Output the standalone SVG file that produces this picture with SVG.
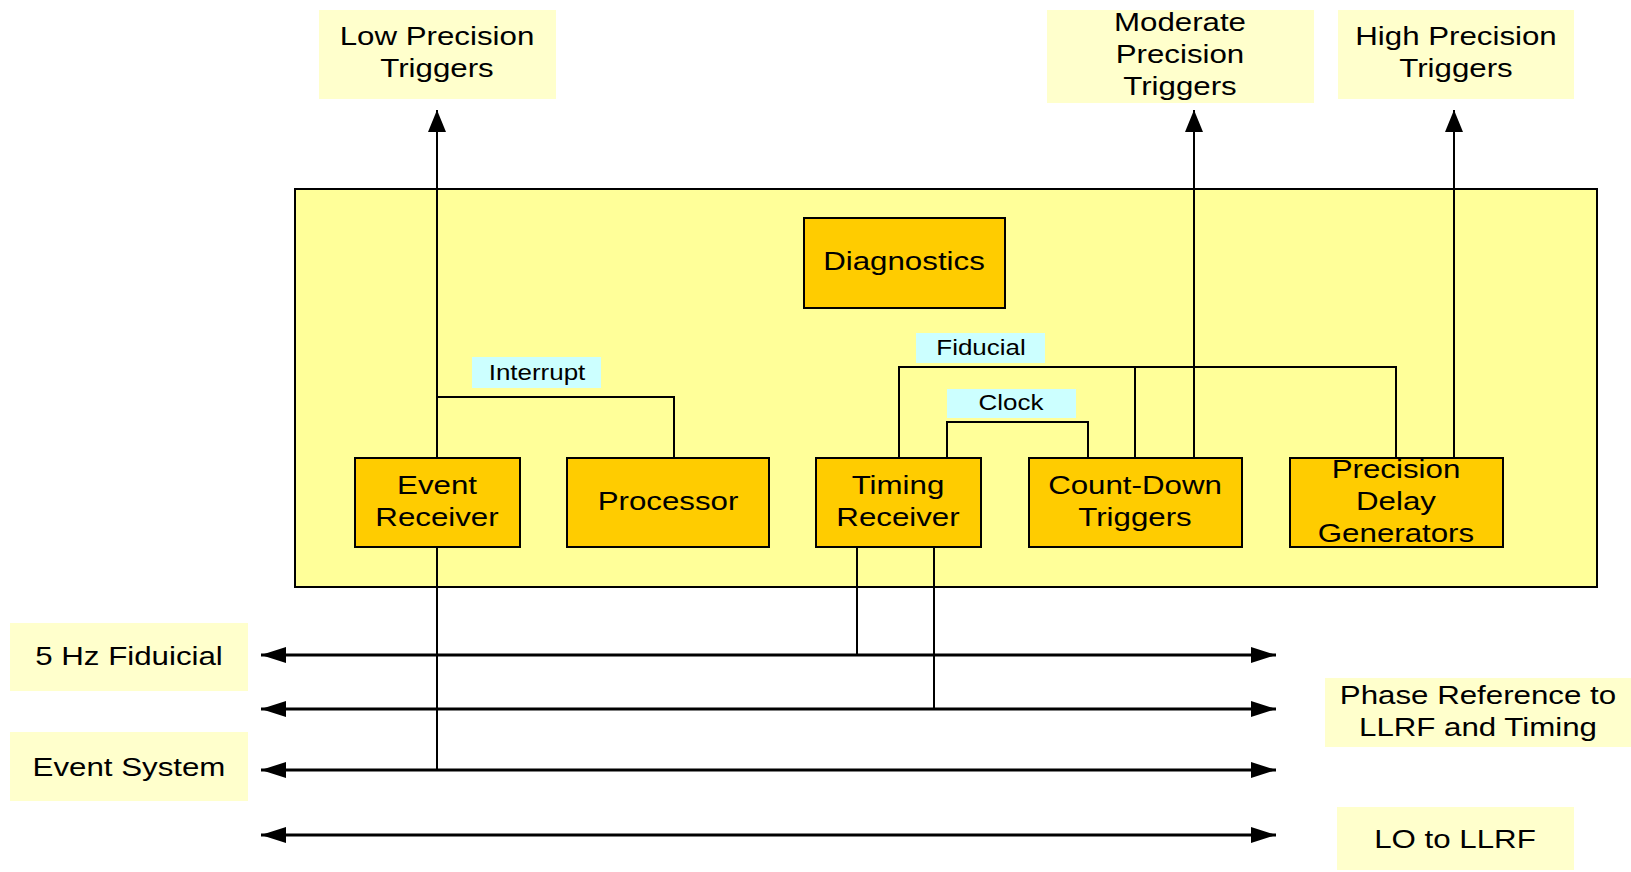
<svg xmlns="http://www.w3.org/2000/svg" width="1631" height="872" viewBox="0 0 1631 872">
<defs>
<style>
text{font-family:"Liberation Sans",Arial,sans-serif;fill:#000;text-anchor:middle}
.t{font-size:26.5px}
.s{font-size:22px}
.ext{fill:#FFFFCC;stroke:none}
.node{fill:#FFCC00;stroke:#000;stroke-width:2}
.lbl{fill:#CCFFFF;stroke:none}
.c{fill:none;stroke:#000;stroke-width:2}
.bus{fill:none;stroke:#000;stroke-width:3}
</style>
<marker id="up" viewBox="0 0 22 18" refX="22" refY="9" markerWidth="22" markerHeight="18" markerUnits="userSpaceOnUse" orient="auto-start-reverse">
<path d="M0,0 L22,9 L0,18 Z" fill="#000"/>
</marker>
<marker id="bh" viewBox="0 0 25 16" refX="25" refY="8" markerWidth="25" markerHeight="16" markerUnits="userSpaceOnUse" orient="auto-start-reverse">
<path d="M0,0 L25,8 L0,16 Z" fill="#000"/>
</marker>
</defs>
<rect width="1631" height="872" fill="#fff"/>

<g id="container">
<rect x="295" y="189" width="1302" height="398" fill="#FFFF99" stroke="#000" stroke-width="2"/>
</g>

<g id="connectors">
<path class="c" d="M437,458 V110" marker-end="url(#up)"/>
<path class="c" d="M1194,458 V110" marker-end="url(#up)"/>
<path class="c" d="M1454,458 V110" marker-end="url(#up)"/>
<path class="c" d="M437,397 H674 V458"/>
<path class="c" d="M899,458 V367 H1396 V458"/>
<path class="c" d="M1135,367 V458"/>
<path class="c" d="M947,458 V422 H1088 V458"/>
<path class="c" d="M437,547 V770"/>
<path class="c" d="M857,547 V655"/>
<path class="c" d="M934,547 V709"/>
<path class="bus" d="M261,655 H1276" marker-start="url(#bh)" marker-end="url(#bh)"/>
<path class="bus" d="M261,709 H1276" marker-start="url(#bh)" marker-end="url(#bh)"/>
<path class="bus" d="M261,770 H1276" marker-start="url(#bh)" marker-end="url(#bh)"/>
<path class="bus" d="M261,835 H1276" marker-start="url(#bh)" marker-end="url(#bh)"/>
</g>

<g id="low-precision">
<rect class="ext" x="319" y="10" width="237" height="89"/>
<text class="t" x="437" y="45" transform="matrix(1.18 0 0 1 -78.66 0)">Low Precision</text>
<text class="t" x="437" y="77" transform="matrix(1.18 0 0 1 -78.66 0)">Triggers</text>
</g>
<g id="moderate-precision">
<rect class="ext" x="1047" y="10" width="267" height="93"/>
<text class="t" x="1180" y="31" transform="matrix(1.18 0 0 1 -212.4 0)">Moderate</text>
<text class="t" x="1180" y="63" transform="matrix(1.18 0 0 1 -212.4 0)">Precision</text>
<text class="t" x="1180" y="95" transform="matrix(1.18 0 0 1 -212.4 0)">Triggers</text>
</g>
<g id="high-precision">
<rect class="ext" x="1338" y="10" width="236" height="89"/>
<text class="t" x="1456" y="45" transform="matrix(1.18 0 0 1 -262.08 0)">High Precision</text>
<text class="t" x="1456" y="77" transform="matrix(1.18 0 0 1 -262.08 0)">Triggers</text>
</g>

<g id="diagnostics">
<rect class="node" x="804" y="218" width="201" height="90"/>
<text class="t" x="904" y="270" transform="matrix(1.18 0 0 1 -162.72 0)">Diagnostics</text>
</g>
<g id="event-receiver">
<rect class="node" x="355" y="458" width="165" height="89"/>
<text class="t" x="437" y="494" transform="matrix(1.18 0 0 1 -78.66 0)">Event</text>
<text class="t" x="437" y="526" transform="matrix(1.18 0 0 1 -78.66 0)">Receiver</text>
</g>
<g id="processor">
<rect class="node" x="567" y="458" width="202" height="89"/>
<text class="t" x="668" y="510" transform="matrix(1.18 0 0 1 -120.24 0)">Processor</text>
</g>
<g id="timing-receiver">
<rect class="node" x="816" y="458" width="165" height="89"/>
<text class="t" x="898" y="494" transform="matrix(1.18 0 0 1 -161.64 0)">Timing</text>
<text class="t" x="898" y="526" transform="matrix(1.18 0 0 1 -161.64 0)">Receiver</text>
</g>
<g id="count-down">
<rect class="node" x="1029" y="458" width="213" height="89"/>
<text class="t" x="1135" y="494" transform="matrix(1.18 0 0 1 -204.3 0)">Count-Down</text>
<text class="t" x="1135" y="526" transform="matrix(1.18 0 0 1 -204.3 0)">Triggers</text>
</g>
<g id="precision-delay">
<rect class="node" x="1290" y="458" width="213" height="89"/>
<text class="t" x="1396" y="478" transform="matrix(1.18 0 0 1 -251.28 0)">Precision</text>
<text class="t" x="1396" y="510" transform="matrix(1.18 0 0 1 -251.28 0)">Delay</text>
<text class="t" x="1396" y="542" transform="matrix(1.18 0 0 1 -251.28 0)">Generators</text>
</g>

<g id="label-interrupt">
<rect class="lbl" x="472" y="357" width="129" height="31"/>
<text class="s" x="537" y="380" transform="matrix(1.18 0 0 1 -96.66 0)">Interrupt</text>
</g>
<g id="label-fiducial">
<rect class="lbl" x="916" y="333" width="129" height="30"/>
<text class="s" x="981" y="355" transform="matrix(1.18 0 0 1 -176.58 0)">Fiducial</text>
</g>
<g id="label-clock">
<rect class="lbl" x="947" y="389" width="129" height="29"/>
<text class="s" x="1011" y="410" transform="matrix(1.18 0 0 1 -181.98 0)">Clock</text>
</g>

<g id="fiducial-5hz">
<rect class="ext" x="10" y="623" width="238" height="68"/>
<text class="t" x="129" y="665" transform="matrix(1.18 0 0 1 -23.22 0)">5 Hz Fiduicial</text>
</g>
<g id="event-system">
<rect class="ext" x="10" y="732" width="238" height="69"/>
<text class="t" x="129" y="776" transform="matrix(1.18 0 0 1 -23.22 0)">Event System</text>
</g>
<g id="phase-reference">
<rect class="ext" x="1325" y="678" width="306" height="69"/>
<text class="t" x="1478" y="704" transform="matrix(1.18 0 0 1 -266.04 0)">Phase Reference to</text>
<text class="t" x="1478" y="736" transform="matrix(1.18 0 0 1 -266.04 0)">LLRF and Timing</text>
</g>
<g id="lo-llrf">
<rect class="ext" x="1337" y="807" width="237" height="63"/>
<text class="t" x="1455" y="848" transform="matrix(1.18 0 0 1 -261.9 0)">LO to LLRF</text>
</g>
</svg>
